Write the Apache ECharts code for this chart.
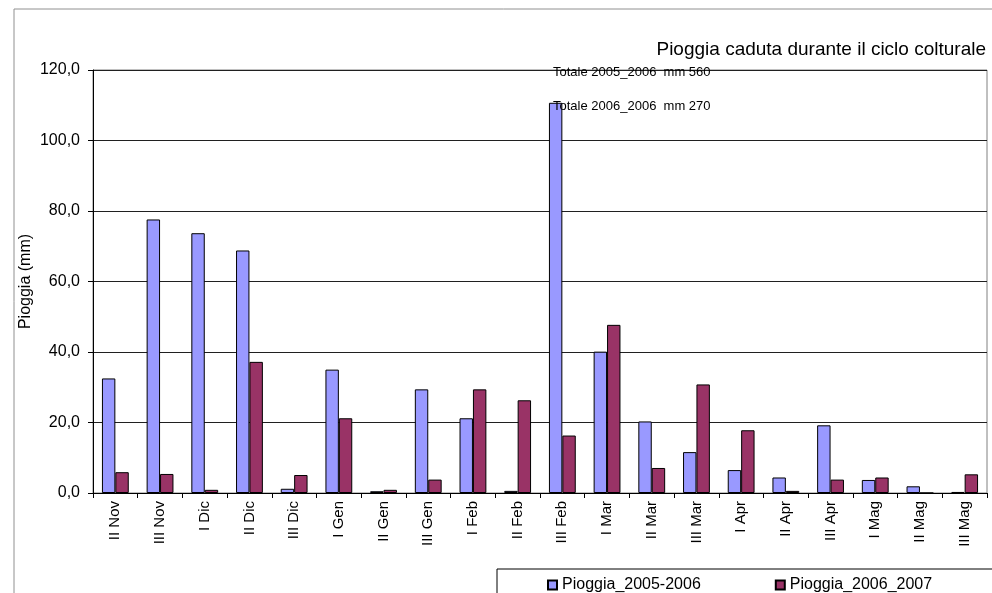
<!DOCTYPE html>
<html>
<head>
<meta charset="utf-8">
<script src="https://cdn.jsdelivr.net/npm/echarts@6/dist/echarts.min.js"></script>
<style>
  html, body { margin: 0; padding: 0; background: #fff; }
  #chart { width: 992px; height: 593px; }
</style>
</head>
<body>
<div id="chart"></div>
<script>
// decadi del ciclo colturale
var categories = ['II Nov', 'III Nov', 'I Dic', 'II Dic', 'III Dic', 'I Gen', 'II Gen', 'III Gen',
  'I Feb', 'II Feb', 'III Feb', 'I Mar', 'II Mar', 'III Mar', 'I Apr', 'II Apr', 'III Apr',
  'I Mag', 'II Mag', 'III Mag'];
var pioggia0506 = [32.5, 77.6, 73.7, 68.8, 1.2, 35.0, 0.5, 29.4, 21.2, 0.6, 110.7, 40.1, 20.3,
  11.6, 6.5, 4.4, 19.2, 3.7, 1.9, 0.3];
var pioggia0607 = [5.9, 5.4, 0.9, 37.2, 5.1, 21.2, 0.9, 3.8, 29.4, 26.3, 16.3, 47.7, 7.1,
  30.8, 17.8, 0.6, 3.8, 4.4, 0, 5.3];
var seriesNames = ['Pioggia_2005-2006', 'Pioggia_2006_2007'];
var notes = ['Totale 2005_2006  mm 560', 'Totale 2006_2006  mm 270'];

var font = 'Liberation Sans, Arial, sans-serif';
var myChart = echarts.init(document.getElementById('chart'));

var option = {
  backgroundColor: '#fff',
  animation: false,
  title: {
    text: 'Pioggia caduta durante il ciclo colturale',
    right: 1,
    top: 35,
    textStyle: { color: '#000', fontFamily: font, fontSize: 19, fontWeight: 'normal' }
  },
  grid: {
    left: 93, top: 70, right: 5, bottom: 100,
    show: true, borderColor: '#808080', borderWidth: 1
  },
  legend: {
    left: 542,
    top: 572,
    itemWidth: 9,
    itemHeight: 9,
    itemGap: 74,
    icon: 'rect',
    textStyle: { color: '#000', fontFamily: font, fontSize: 16 },
    data: seriesNames
  },
  graphic: [
    // cornice esterna del grafico
    { type: 'rect', shape: { x: 14, y: 9, width: 1000, height: 600 },
      style: { fill: 'none', stroke: '#909090', lineWidth: 1 }, z: -1 },
    // riquadro della legenda
    { type: 'rect', shape: { x: 497, y: 569, width: 520, height: 40 },
      style: { fill: '#fff', stroke: '#000', lineWidth: 1 }, z: 0 },
    { type: 'text', left: 553, top: 66,
      style: { text: notes[0], fill: '#000', font: '13px ' + font }, z: 10 },
    { type: 'text', left: 553, top: 100,
      style: { text: notes[1], fill: '#000', font: '13px ' + font }, z: 10 }
  ],
  xAxis: {
    type: 'category',
    data: categories,
    axisLine: { lineStyle: { color: '#000', width: 1 } },
    axisTick: { show: true, length: 5, lineStyle: { color: '#000' } },
    axisLabel: { rotate: 90, margin: 8, color: '#000', fontFamily: font, fontSize: 15, interval: 0 }
  },
  yAxis: {
    type: 'value',
    min: 0,
    max: 120,
    interval: 20,
    name: 'Pioggia (mm)',
    nameLocation: 'middle',
    nameGap: 59,
    nameMoveOverlap: false,
    nameTextStyle: { color: '#000', fontFamily: font, fontSize: 16 },
    axisLine: { show: true, lineStyle: { color: '#000', width: 1 } },
    axisTick: { show: true, length: 5, lineStyle: { color: '#000' } },
    axisLabel: {
      color: '#000', fontFamily: font, fontSize: 16, margin: 13,
      formatter: function (v) { return v.toFixed(1).replace('.', ','); }
    },
    splitLine: { lineStyle: { color: '#202020', width: 1 } }
  },
  series: [
    {
      name: seriesNames[0],
      type: 'bar',
      data: pioggia0506,
      barGap: '0%',
      barCategoryGap: '40%',
      itemStyle: { color: '#9999FF', borderColor: '#000', borderWidth: 1 }
    },
    {
      name: seriesNames[1],
      type: 'bar',
      data: pioggia0607,
      barGap: '0%',
      barCategoryGap: '40%',
      itemStyle: { color: '#993366', borderColor: '#000', borderWidth: 1 }
    }
  ]
};
myChart.setOption(option);
</script>
</body>
</html>
